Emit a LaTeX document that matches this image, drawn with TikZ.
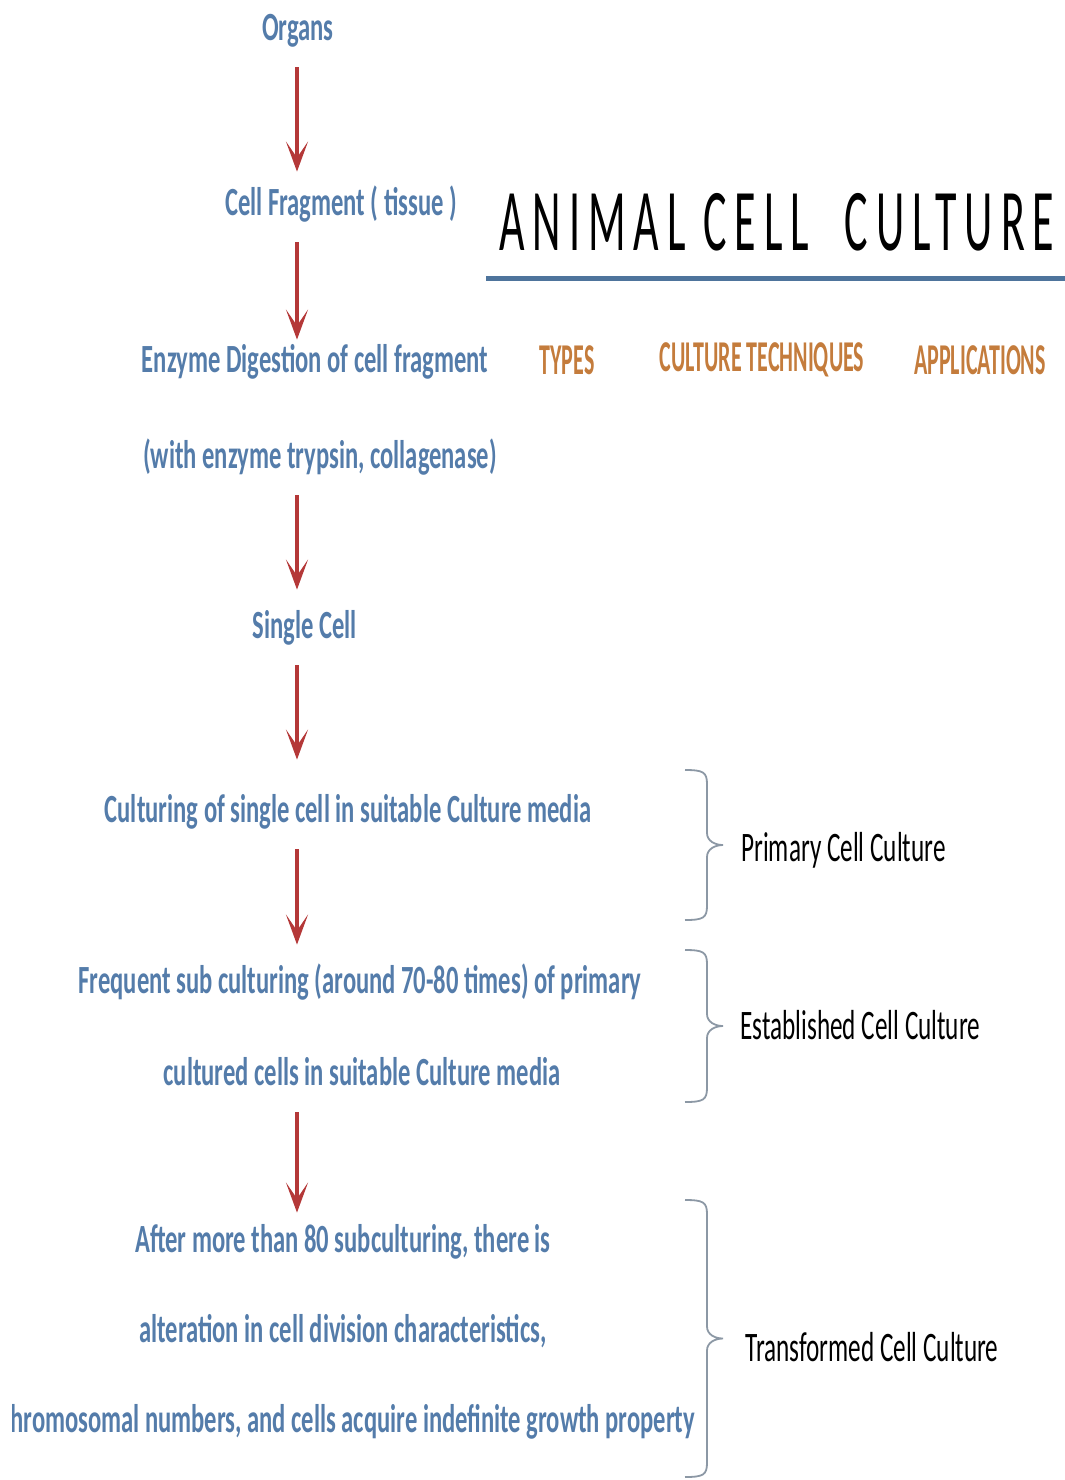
\documentclass[tikz,border=0pt]{standalone}
\usepackage{fontspec}
\setmainfont{Carlito}[FakeStretch=0.6]
\newfontfamily\stagefont{Carlito}[FakeStretch=0.615]
\newfontfamily\titlefont{Carlito}[FakeStretch=0.5,LetterSpace=9]
\newfontfamily\headfont{Carlito}[FakeStretch=0.5]
\usetikzlibrary{arrows.meta,calc}
\definecolor{stepblue}{RGB}{84,124,170}
\definecolor{arrowred}{RGB}{180,56,56}
\definecolor{ruleblue}{RGB}{78,116,156}
\definecolor{headorange}{RGB}{196,124,60}
\definecolor{bracegray}{RGB}{140,152,165}
\tikzset{
	stage/.style={text=stepblue, font=\stagefont\bfseries\fontsize{20}{24}\selectfont, inner sep=0pt, text height=14pt, text depth=4pt},
	flow/.style={draw=arrowred, line width=1.8pt, -{Stealth[length=15pt,width=11pt,inset=8pt]}, shorten <=9.5pt},
	kind/.style={font=\fontsize{21}{24}\selectfont, anchor=west, inner sep=0pt},
	head/.style={text=headorange, font=\headfont\bfseries\fontsize{22}{26}\selectfont, inner sep=0pt},
	bracket/.style={draw=bracegray, line width=0.9pt, to path={let \p1=(\tikztostart), \p2=(\tikztotarget), \n1={0.5*(\y1+\y2)} in
		(\p1) .. controls +(9pt,0) and +(0,6pt) .. (\x1+11pt,\y1-7pt)
		-- (\x1+11pt,\n1+6pt) .. controls +(0,-4pt) and +(-4pt,0) .. (\x1+19pt,\n1)
		.. controls +(-4pt,0) and +(0,4pt) .. (\x1+11pt,\n1-6pt)
		-- (\x1+11pt,\y2+7pt) .. controls +(0,-6pt) and +(9pt,0) .. (\p2)}}
}
\begin{document}
\begin{tikzpicture}[x=0.5pt,y=-0.5pt]
			\useasboundingbox (0,0) rectangle (1065,1480);
			\coordinate (spine) at (297,0);
			
			\node[stage] (organs) at (298,30) {Organs};
			\node[stage] (frag) at (341,205) {Cell Fragment ( tissue )};
			\node[stage] (enz) at (315,362) {Enzyme Digestion of cell fragment};
			\node[stage] (enzb) at (320,458) {(with enzyme trypsin, collagenase)};
			\node[stage] (single) at (305,628) {Single Cell};
			\node[stage] (cult) at (348,812) {Culturing of single cell in suitable Culture media};
			\node[stage] (subc) at (360,983) {Frequent sub culturing (around 70-80 times) of primary};
			\node[stage] (subcb) at (362,1075) {cultured cells in suitable Culture media};
			\node[stage] (after) at (343,1242) {After more than 80 subculturing, there is};
			\node[stage] (alter) at (343,1332) {alteration in cell division characteristics,};
			\begin{scope}
				\clip (12,1380) rectangle (1065,1470);
				\node[stage, anchor=west] (chrom) at (10,1422) {\llap{c}hromosomal numbers, and cells acquire indefinite growth property};
			\end{scope}
			
			\draw [flow, shorten >=7.5pt] (organs.south -| spine) -- (frag.north -| spine);
			\draw [flow, shorten >=2pt] (frag.south -| spine) -- (enz.north -| spine);
			\draw [flow, shorten >=10pt] (enzb.south -| spine) -- (single.north -| spine);
			\draw [flow, shorten >=17pt] (single.south -| spine) -- (cult.north -| spine);
			\draw [flow, shorten >=10pt] (cult.south -| spine) -- (subc.north -| spine);
			\draw [flow, shorten >=5.5pt] (subcb.south -| spine) -- (after.north -| spine);
			
			% title block
			\node[font=\titlefont\fontsize{44}{50}\selectfont, inner sep=0pt] (title) at (777,222) {ANIMAL CELL~~CULTURE};
			\coordinate (rulel) at (486,278);
			\coordinate (ruler) at (1065,278);
			\draw[ruleblue, line width=2.5pt] (rulel) -- (ruler);
			\node[head] (types) at (567,360) {TYPES};
			\node[head] (tech) at (762,360) {CULTURE TECHNIQUES};
			\node[head] (apps) at (980,360) {APPLICATIONS};
			
			% braces
			\coordinate (pt) at (685,770);
			\coordinate (pb) at (685,920);
			\coordinate (et) at (685,950);
			\coordinate (eb) at (685,1102);
			\coordinate (tt) at (685,1200);
			\coordinate (tb) at (685,1477);
			\draw [bracket] (pt) to (pb);
			\draw [bracket] (et) to (eb);
			\draw [bracket] (tt) to (tb);
			\node[kind] (prim) at (741,850) {Primary Cell Culture};
			\node[kind] (estab) at (740,1025) {Established Cell Culture};
			\node[kind] (trans) at (745,1347) {Transformed Cell Culture};
		\end{tikzpicture}
\end{document}
